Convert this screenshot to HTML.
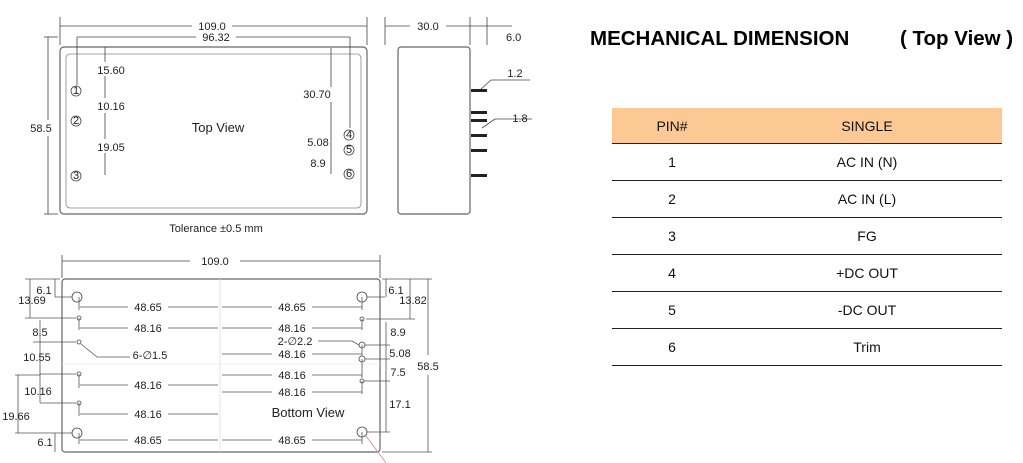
<!DOCTYPE html>
<html><head><meta charset="utf-8"><style>
body{margin:0;background:#fff;width:1023px;height:463px;overflow:hidden;position:relative;font-family:"Liberation Sans",sans-serif}
svg{position:absolute;left:0;top:0}
.t{font-family:"Liberation Sans",sans-serif;font-size:11px;fill:#222}
table{position:absolute;left:612px;top:108px;width:390px;border-collapse:collapse;font-size:14px;color:#111}
td{height:36px;text-align:center;border-bottom:1.5px solid #222;padding:0}
th{height:35px;background:#fcc995;font-weight:normal;text-align:center;border-bottom:1.5px solid #222;padding:0}
h1{position:absolute;left:590px;top:27px;margin:0;font-size:20.5px;font-weight:bold;color:#000;white-space:nowrap}
</style></head><body>
<h1>MECHANICAL DIMENSION<span style="position:absolute;left:310px">( Top View )</span></h1>
<table><tr><th style="width:120px">PIN#</th><th>SINGLE</th></tr>
<tr><td>1</td><td>AC IN (N)</td></tr>
<tr><td>2</td><td>AC IN (L)</td></tr>
<tr><td>3</td><td>FG</td></tr>
<tr><td>4</td><td>+DC OUT</td></tr>
<tr><td>5</td><td>-DC OUT</td></tr>
<tr><td>6</td><td>Trim</td></tr></table>
<svg width="1023" height="463" viewBox="0 0 1023 463">
<g stroke="#444" stroke-width="0.8" fill="none">
<rect x="60" y="47" width="307" height="167" rx="4" stroke="#666" stroke-width="1.2"/>
<rect x="66" y="54" width="295" height="154" rx="4" stroke="#888"/>
<line x1="60" y1="17" x2="60" y2="45"/><line x1="367" y1="17" x2="367" y2="45"/>
<line x1="60" y1="26" x2="192" y2="26"/><line x1="232" y1="26" x2="367" y2="26"/>
<line x1="77" y1="37" x2="196" y2="37"/><line x1="236" y1="37" x2="350" y2="37"/>
<line x1="77" y1="37" x2="77" y2="85"/><line x1="350" y1="37" x2="350" y2="128"/>
<line x1="48" y1="37" x2="48" y2="120"/><line x1="48" y1="136" x2="48" y2="214"/>
<line x1="44" y1="37" x2="58" y2="37"/><line x1="44" y1="214" x2="58" y2="214"/>
<line x1="105" y1="47" x2="105" y2="62"/><line x1="105" y1="76" x2="105" y2="98"/><line x1="105" y1="113" x2="105" y2="139"/><line x1="105" y1="153" x2="105" y2="175"/>
<line x1="331" y1="48" x2="331" y2="87"/><line x1="331" y1="102" x2="331" y2="174"/>
<circle cx="76" cy="91" r="5"/><circle cx="76" cy="121" r="5"/><circle cx="76" cy="176" r="5"/>
<circle cx="349" cy="135" r="5"/><circle cx="349" cy="150" r="5"/><circle cx="349" cy="174" r="5"/>
<rect x="398" y="47" width="72" height="167" rx="3" stroke="#666" stroke-width="1.2"/>
<line x1="385" y1="17" x2="385" y2="45"/><line x1="470" y1="17" x2="470" y2="45"/><line x1="487" y1="17" x2="487" y2="45"/>
<line x1="385" y1="26" x2="410" y2="26"/><line x1="446" y1="26" x2="512" y2="26"/>
<line x1="480" y1="90" x2="491" y2="80"/><line x1="491" y1="80" x2="530" y2="80"/>
<line x1="482" y1="128" x2="495" y2="119"/><line x1="495" y1="119" x2="532" y2="119"/>
<rect x="62" y="279" width="318" height="173" rx="3" stroke="#666" stroke-width="1.2"/>
<line x1="220" y1="279" x2="220" y2="452" stroke="#ddd"/><line x1="62" y1="364" x2="380" y2="364" stroke="#eee"/>
<line x1="62" y1="255" x2="62" y2="278"/><line x1="380" y1="255" x2="380" y2="278"/>
<line x1="62" y1="261" x2="190" y2="261"/><line x1="240" y1="261" x2="380" y2="261"/>
<circle cx="77" cy="297" r="5"/><circle cx="79" cy="318" r="2"/><circle cx="79" cy="342" r="2"/><circle cx="79" cy="374" r="2"/><circle cx="79" cy="403" r="2"/><circle cx="77" cy="433" r="5"/>
<circle cx="362" cy="297" r="5"/><circle cx="362" cy="319" r="2"/><circle cx="362" cy="345" r="3"/><circle cx="362" cy="359" r="3"/><circle cx="362" cy="381" r="2"/><circle cx="362" cy="432" r="5"/>
<g stroke="#555">
<line x1="80" y1="307" x2="128" y2="307"/><line x1="168" y1="307" x2="218" y2="307"/><line x1="222" y1="307" x2="272" y2="307"/><line x1="312" y1="307" x2="362" y2="307"/>
<line x1="80" y1="328" x2="128" y2="328"/><line x1="168" y1="328" x2="218" y2="328"/><line x1="222" y1="328" x2="272" y2="328"/><line x1="312" y1="328" x2="362" y2="328"/>
<line x1="222" y1="354" x2="272" y2="354"/><line x1="312" y1="354" x2="362" y2="354"/>
<line x1="222" y1="375" x2="272" y2="375"/><line x1="312" y1="375" x2="362" y2="375"/>
<line x1="222" y1="392" x2="272" y2="392"/><line x1="312" y1="392" x2="362" y2="392"/>
<line x1="80" y1="385" x2="128" y2="385"/><line x1="168" y1="385" x2="218" y2="385"/>
<line x1="80" y1="414" x2="128" y2="414"/><line x1="168" y1="414" x2="218" y2="414"/>
<line x1="80" y1="440" x2="128" y2="440"/><line x1="168" y1="440" x2="218" y2="440"/><line x1="222" y1="440" x2="272" y2="440"/><line x1="312" y1="440" x2="362" y2="440"/>
<line x1="79" y1="297" x2="79" y2="310"/><line x1="79" y1="318" x2="79" y2="330"/><line x1="79" y1="374" x2="79" y2="388"/><line x1="79" y1="403" x2="79" y2="416"/><line x1="79" y1="433" x2="79" y2="444"/>
<line x1="362" y1="297" x2="362" y2="310"/><line x1="362" y1="319" x2="362" y2="330"/><line x1="362" y1="345" x2="362" y2="356"/><line x1="362" y1="359" x2="362" y2="378"/><line x1="362" y1="381" x2="362" y2="394"/><line x1="362" y1="432" x2="362" y2="444"/>
<line x1="25" y1="279" x2="60" y2="279"/><line x1="55" y1="297" x2="72" y2="297"/><line x1="25" y1="318" x2="76" y2="318"/>
<line x1="30" y1="279" x2="30" y2="318"/><line x1="55" y1="279" x2="55" y2="297"/>
<line x1="33" y1="342" x2="76" y2="342"/><line x1="40" y1="374" x2="76" y2="374"/><line x1="40" y1="403" x2="76" y2="403"/><line x1="15" y1="375" x2="40" y2="375"/><line x1="15" y1="433" x2="72" y2="433"/>
<line x1="40" y1="320" x2="40" y2="403"/><line x1="18" y1="375" x2="18" y2="433"/><line x1="55" y1="433" x2="55" y2="452"/>
<polyline points="81,344 97,357 130,357"/>
<line x1="367" y1="297" x2="385" y2="297"/><line x1="366" y1="319" x2="415" y2="319"/><line x1="382" y1="279" x2="432" y2="279"/><line x1="382" y1="452" x2="432" y2="452"/>
<line x1="386" y1="279" x2="386" y2="297"/><line x1="410" y1="279" x2="410" y2="319"/>
<line x1="365" y1="345" x2="390" y2="345"/><line x1="365" y1="359" x2="390" y2="359"/><line x1="364" y1="381" x2="390" y2="381"/><line x1="367" y1="432" x2="390" y2="432"/>
<line x1="386" y1="322" x2="386" y2="432"/><line x1="428" y1="279" x2="428" y2="355"/><line x1="428" y1="375" x2="428" y2="452"/>
<polyline points="318,341 352,341 359,345"/>
</g>
<line x1="366" y1="436" x2="386" y2="463" stroke="#e08080"/>
</g>
<g fill="#222">
<rect x="471" y="89" width="16" height="3"/><rect x="471" y="111" width="16" height="3"/><rect x="471" y="119" width="16" height="3"/><rect x="471" y="134" width="16" height="3"/><rect x="471" y="149" width="16" height="3"/><rect x="471" y="174" width="16" height="3"/>
</g>
<g class="t" text-anchor="middle">
<text x="212" y="30">109.0</text><text x="216" y="41">96.32</text><text x="41" y="132">58.5</text>
<text x="111" y="74">15.60</text><text x="111" y="110">10.16</text><text x="111" y="151">19.05</text>
<text x="317" y="98">30.70</text><text x="318" y="146">5.08</text><text x="318" y="167">8.9</text>
<text x="218" y="132" font-size="13">Top View</text>
<text x="428" y="30">30.0</text><text x="506" y="41" text-anchor="start">6.0</text>
<text x="515" y="77">1.2</text><text x="520" y="122">1.8</text>
<text x="216" y="232">Tolerance ±0.5 mm</text>
<text x="215" y="265">109.0</text>
<text x="148" y="311">48.65</text><text x="292" y="311">48.65</text>
<text x="148" y="332">48.16</text><text x="292" y="332">48.16</text>
<text x="292" y="358">48.16</text><text x="292" y="379">48.16</text><text x="292" y="396">48.16</text>
<text x="148" y="389">48.16</text><text x="148" y="418">48.16</text>
<text x="148" y="444">48.65</text><text x="292" y="444">48.65</text>
<text x="150" y="359">6-∅1.5</text><text x="295" y="345">2-∅2.2</text>
<text x="44" y="294">6.1</text><text x="32" y="304">13.69</text><text x="40" y="336">8.5</text><text x="37" y="361">10.55</text><text x="38" y="395">10.16</text><text x="16" y="420">19.66</text><text x="45" y="446">6.1</text>
<text x="396" y="294">6.1</text><text x="413" y="304">13.82</text><text x="398" y="336">8.9</text><text x="400" y="357">5.08</text><text x="398" y="376">7.5</text><text x="428" y="370">58.5</text><text x="400" y="408">17.1</text>
<text x="308" y="417" font-size="13">Bottom View</text>
</g>
<g class="t" text-anchor="middle" font-size="9">
<text x="76" y="94">1</text><text x="76" y="124">2</text><text x="76" y="179">3</text><text x="349" y="138">4</text><text x="349" y="153">5</text><text x="349" y="177">6</text>
</g>
</svg>
</body></html>
